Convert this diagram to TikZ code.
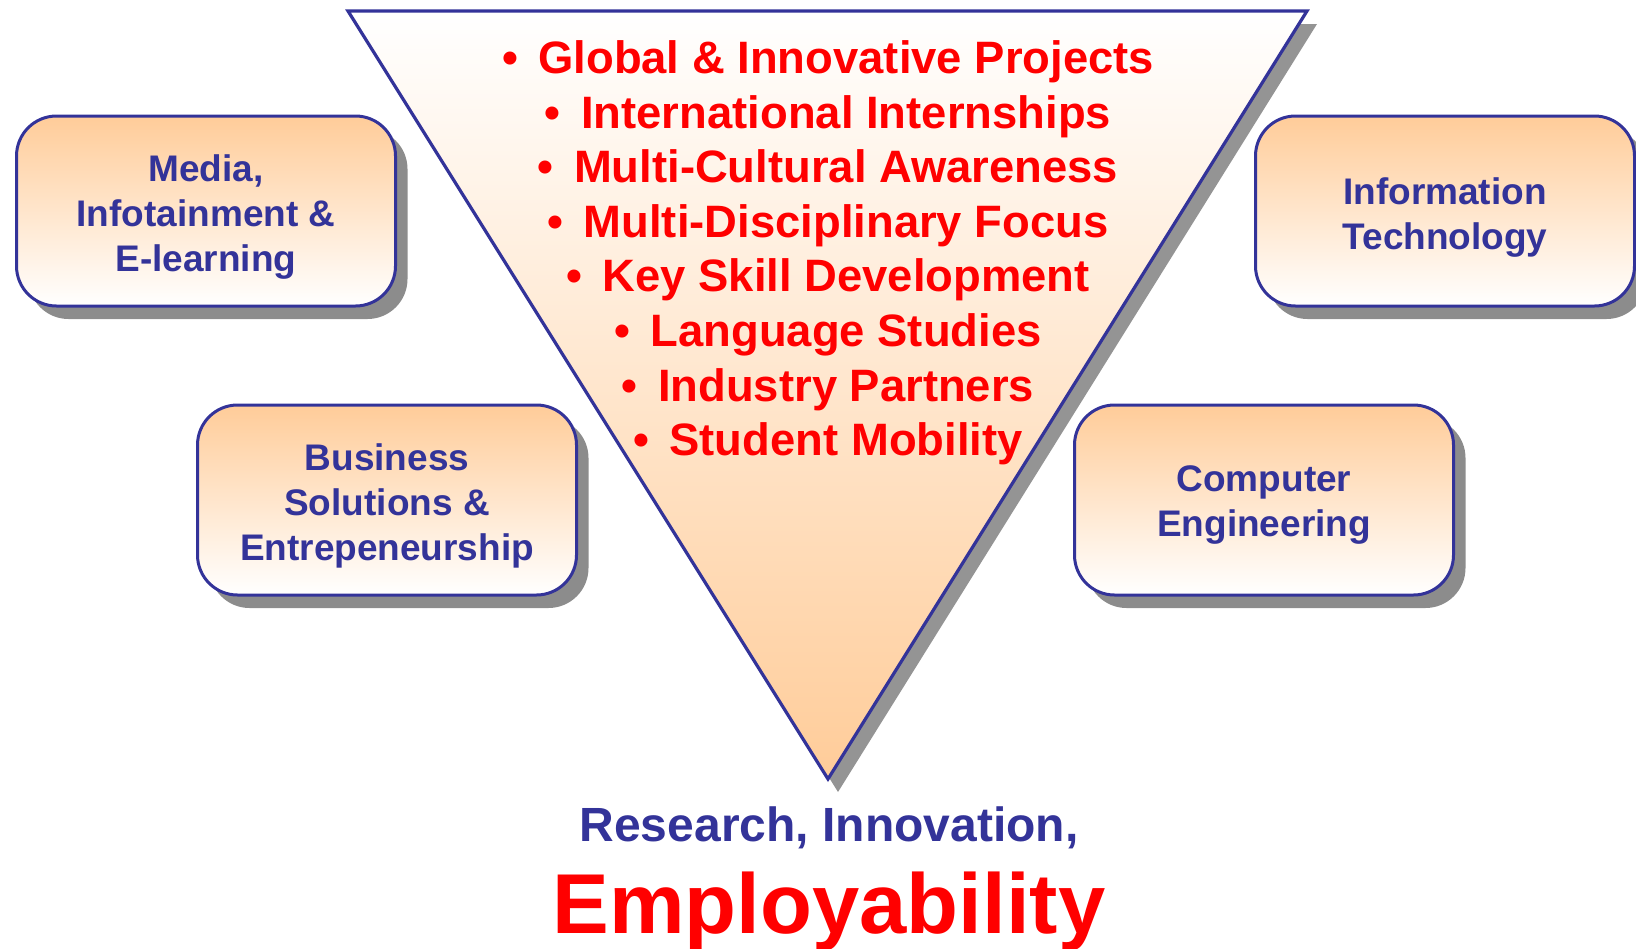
\documentclass[tikz,border=0pt]{standalone}
\usepackage{fontspec}
\setmainfont{Liberation Sans}
\usetikzlibrary{shadows, positioning}
\definecolor{peach}{HTML}{FFCC99}
\definecolor{ink}{HTML}{333399}
\definecolor{hot}{HTML}{FF0000}
\newcommand{\itm}{\textbullet\hspace{0.45em}}
\newcommand{\lift}{\rule{0pt}{39pt}}

\begin{document}
\begin{tikzpicture}[x=1pt,y=-1pt,
        area node/.style={rectangle,rounded corners=40pt,draw=ink,line width=3pt,
            top color=peach,bottom color=white,minimum width=379pt,minimum height=190pt,
            align=center,text=ink,font=\fontsize{37}{45}\selectfont\bfseries,
            drop shadow={shadow xshift=12pt,shadow yshift=-13pt,fill=black!45,opacity=1}},
        item/.style={anchor=base,text=hot,font=\fontsize{45.4}{54}\selectfont\bfseries}]

    \useasboundingbox (0,0) rectangle (1636,948);

    % funnel with its shadow
    \coordinate (tl) at (348,11);
    \coordinate (tr) at (1307,11);
    \coordinate (tip) at (828,779);
    \fill[black!42] ([shift={(10,13)}]tl) -- ([shift={(10,13)}]tr) -- ([shift={(10,13)}]tip) -- cycle;
    \path[top color=white,bottom color=peach] (tl) -- (tr) -- (tip) -- cycle;
    \draw[ink,line width=3.2pt,line join=miter] (tl) -- (tr) -- (tip) -- cycle;

    % what goes into the funnel
    \node[item] (i1) at (828,73) {\itm Global \& Innovative Projects};
    \node[item] (i2) at (828,128) {\itm International Internships};
    \node[item] (i3) at (828,182) {\itm Multi-Cultural Awareness};
    \node[item] (i4) at (828,237) {\itm Multi-Disciplinary Focus};
    \node[item] (i5) at (828,291) {\itm Key Skill Development};
    \node[item] (i6) at (828,346) {\itm Language Studies};
    \node[item] (i7) at (828,401) {\itm Industry Partners};
    \node[item] (i8) at (828,455) {\itm Student Mobility};

    % the four fields
    \node[area node] (media) at (206,211) {\lift Media,\\Infotainment \&\\E-learning};
    \node[area node] (it) at (1445,211) {\lift Information\\Technology};
    \node[area node] (business) at (387,500) {\lift Business\\Solutions \&\\Entrepeneurship};
    \node[area node] (computer) at (1264,500) {\rule{0pt}{35pt}Computer\\Engineering};

    % what comes out
    \node[anchor=base,text=ink,font=\fontsize{48}{56}\selectfont\bfseries] (research) at (829,841) {Research, Innovation,};
    \node[anchor=base,text=hot,font=\fontsize{85}{100}\selectfont\bfseries] (employ) at (829,933) {Employability};
\end{tikzpicture}
\end{document}
